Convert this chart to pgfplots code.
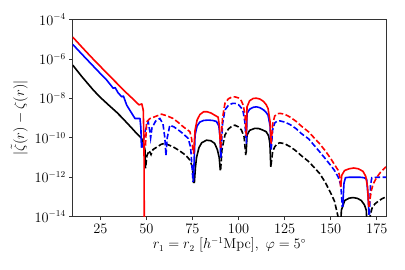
\documentclass[border=0pt]{standalone}
\usepackage{pgfplots}
\pgfplotsset{compat=1.18}
\begin{document}
\begin{tikzpicture}
\begin{axis}[
  scale only axis,
  width=313.3pt, height=197.2pt,
  xmin=10, xmax=180,
  ymode=log, ymin=1e-14, ymax=1e-4,
  xtick={25,50,75,100,125,150,175},
  ytick={1e-4,1e-6,1e-8,1e-10,1e-12,1e-14},
  minor ytick={}, 
  tick pos=left,
  tick align=outside,
  major tick length=3.5pt,
  every tick/.style={black!80, line width=0.8pt},
  axis line style={black!80, line width=0.8pt},
  ticklabel style={font=\fontsize{13.5}{16}\selectfont},
  label style={font=\fontsize{13.5}{16}\selectfont},
  xlabel={$r_1 = r_2\ [h^{-1}\mathrm{Mpc}],\ \varphi = 5^\circ$},
  ylabel={$|\tilde{\zeta}(r) - \zeta(r)|$},
  xlabel style={yshift=2pt},
  clip=true,
]
% ---------- black ----------
\addplot[black, line width=1.6pt, line join=round] coordinates {
(10,4.90e-7)(15,1.26e-7)(21.2,2.63e-8)(25,1.12e-8)(30,4.17e-9)(33.8,2.0e-9)(37,1e-9)(40,5.01e-10)(42,3.16e-10)(44.7,1.66e-10)(46,1.26e-10)(47.4,9.33e-11)(48.5,5.01e-11)(49.2,2.51e-11)(49.5,2.82e-12)};
\addplot[black, line width=1.6pt, dash pattern=on 5.5pt off 2.5pt] coordinates {
(49.7,3.98e-12)(50.3,1.26e-11)(51.5,2.24e-11)(52.5,1.41e-11)(53.5,2.51e-11)(56,3.55e-11)(58,4.68e-11)(60,5.25e-11)(62,4.37e-11)(64.5,3.47e-11)(67,2.51e-11)(70,1.62e-11)(72,1.12e-11)(73.6,7.41e-12)(75,3.16e-12)(75.6,5.01e-13)};
\addplot[black, line width=1.6pt] coordinates {
(76,5.01e-13)(76.6,3.16e-12)(77.2,1e-11)(78.5,3.16e-11)(80,5.62e-11)(82.6,7.59e-11)(85,7.08e-11)(87,5.25e-11)(88.5,2.51e-11)(89.5,1e-11)(90.1,2.24e-12)};
\addplot[black, line width=1.6pt, dash pattern=on 5.5pt off 2.5pt] coordinates {
(90.3,2.51e-12)(91,2.51e-11)(92.6,1.38e-10)(94.5,2.82e-10)(96.5,3.98e-10)(98,4.37e-10)(100,3.55e-10)(101.6,2.46e-10)(103,1.12e-10)(103.9,1.32e-11)};
\addplot[black, line width=1.6pt] coordinates {
(104.1,1.58e-11)(104.6,1.38e-10)(106,2.40e-10)(108.8,3.02e-10)(111,2.95e-10)(113,2.51e-10)(115,2.04e-10)(116.3,1.26e-10)(117,5.25e-11)(117.5,3.39e-12)};
\addplot[black, line width=1.6pt, dash pattern=on 5.5pt off 2.5pt] coordinates {
(117.6,3.98e-12)(118.5,2.0e-11)(119.6,3.47e-11)(121,5.01e-11)(122.4,5.62e-11)(125,5.01e-11)(128,3.55e-11)(131,2.24e-11)(134,1.26e-11)(138,6.31e-12)(141,3.16e-12)(144,1.55e-12)(147,5.62e-13)(150,1.58e-13)(152,6.31e-14)(154,1e-14)(154.8,1e-15)};
\addplot[black, line width=1.6pt] coordinates {
(155,1e-15)(155.8,2.14e-14)(157.6,6.61e-14)(160,8.71e-14)(162.1,9.33e-14)(164.5,8.51e-14)(166.6,6.61e-14)(168.3,3.98e-14)(169.3,2.14e-14)(170,1e-15)};
\addplot[black, line width=1.6pt, dash pattern=on 5.5pt off 2.5pt] coordinates {
(170.5,1e-15)(171.5,1.26e-14)(172.5,2.82e-14)(174,4.47e-14)(176,6.31e-14)(178,8.32e-14)(180,1e-13)};
% ---------- blue ----------
\addplot[blue, line width=1.6pt, line join=round] coordinates {
(10,5.50e-6)(15,1.74e-6)(20,5.62e-7)(25,1.82e-7)(28,9.55e-8)(30,5.62e-8)(32,3.24e-8)(33,3.55e-8)(34.5,2.0e-8)(36.6,1.20e-8)(37.5,1.32e-8)(39.3,4.57e-9)(41,2.51e-9)(43.8,9.55e-10)(46.5,9.55e-10)(47,3.16e-10)(47.3,3.16e-11)};
\addplot[blue, line width=1.6pt, dash pattern=on 5.5pt off 2.5pt] coordinates {
(47.5,3.16e-11)(49.5,2.51e-10)(51,6.46e-10)(51.9,2.0e-10)(52.3,1e-10)(53,3.16e-10)(55,7.08e-10)(57.3,9.55e-10)(59,5.01e-10)(60,1e-10)(60.6,1.26e-11)(61.3,1e-10)(62.7,4.37e-10)(65,3.55e-10)(68,2.24e-10)(70,1.58e-10)(72.7,9.33e-11)(74,3.16e-11)(75.3,5.89e-13)};
\addplot[blue, line width=1.6pt] coordinates {
(75.5,6.31e-13)(76.4,1.38e-10)(77.5,3.98e-10)(79,6.31e-10)(81,7.59e-10)(83.5,7.94e-10)(86,7.59e-10)(88,6.76e-10)(89.3,3.98e-10)(90,1e-10)(90.3,1e-11)};
\addplot[blue, line width=1.6pt, dash pattern=on 5.5pt off 2.5pt] coordinates {
(90.4,1e-11)(91.3,5.01e-10)(92.6,2.57e-9)(94.5,4.47e-9)(96.5,5.50e-9)(98,5.62e-9)(100,4.79e-9)(101.5,3.31e-9)(102.5,2.09e-9)(103.4,6.46e-10)(104,1e-10)};
\addplot[blue, line width=1.6pt] coordinates {
(104.2,5.01e-11)(104.6,1.74e-9)(106,2.82e-9)(108,3.55e-9)(109.7,3.72e-9)(111.5,3.39e-9)(113.5,2.63e-9)(115,1.91e-9)(116,1.41e-9)(117.1,3.98e-10)(117.6,3.16e-11)};
\addplot[blue, line width=1.6pt, dash pattern=on 5.5pt off 2.5pt] coordinates {
(117.7,2.51e-11)(118.5,2.51e-10)(119.6,5.62e-10)(121,7.08e-10)(122.4,7.24e-10)(125,6.31e-10)(128,4.68e-10)(131,3.02e-10)(134,1.66e-10)(138,8.91e-11)(141,4.17e-11)(144,1.95e-11)(147,8.91e-12)(150,3.98e-12)(152,2.24e-12)(154,1.05e-12)(155.5,3.98e-13)(156.3,3.16e-14)};
\addplot[blue, line width=1.6pt] coordinates {
(156.5,3.16e-14)(157.2,5.01e-13)(158,9.55e-13)(160,1e-12)(163,1e-12)(166,1e-12)(168,9.55e-13)(169.5,7.94e-13)(170.3,1e-13)(170.8,1.26e-14)};
\addplot[blue, line width=1.6pt, dash pattern=on 5.5pt off 2.5pt] coordinates {
(171,1.26e-14)(171.6,3.98e-13)(172.3,9.55e-13)(175,1e-12)(180,1e-12)};
% ---------- red ----------
\addplot[red, line width=1.6pt, line join=round] coordinates {
(10,1.29e-5)(15,3.98e-6)(20,1.26e-6)(25,4.17e-7)(30,1.38e-7)(35,4.68e-8)(38,2.40e-8)(41,1.32e-8)(44,7.08e-9)(46,4.68e-9)(47.5,5.25e-9)(48.3,2.51e-9)(48.7,3.16e-11)(48.9,1e-16)};
\addplot[red, line width=1.6pt, dash pattern=on 5.5pt off 2.5pt] coordinates {
(49.5,3.98e-11)(50.1,6.46e-10)(52,9.55e-10)(54.6,1.18e-9)(58.2,1.58e-9)(61,1.32e-9)(64.5,9.55e-10)(67,6.31e-10)(70,3.63e-10)(73.6,2.04e-10)(74.5,9.33e-11)(75.5,1.58e-11)};
\addplot[red, line width=1.6pt] coordinates {
(75.6,1.58e-11)(76.4,2.46e-10)(77.5,7.94e-10)(79,1.51e-9)(81,2.09e-9)(83,2.09e-9)(85,1.82e-9)(87,1.41e-9)(88.9,1.12e-9)(89.6,3.98e-10)(90.2,3.16e-11)};
\addplot[red, line width=1.6pt, dash pattern=on 5.5pt off 2.5pt] coordinates {
(90.3,3.16e-11)(91.3,1e-9)(92.6,5.62e-9)(94.5,9.55e-9)(96.5,1.18e-8)(98,1.20e-8)(100,1.05e-8)(101.5,7.59e-9)(102.5,4.57e-9)(103.5,1.58e-9)(104.1,1.58e-10)};
\addplot[red, line width=1.6pt] coordinates {
(104.2,1.26e-10)(104.6,3.72e-9)(106,7.59e-9)(108,1e-8)(109.7,1.02e-8)(111.5,9.33e-9)(113.5,7.08e-9)(115,4.79e-9)(116,3.09e-9)(117.1,6.46e-10)(117.6,6.31e-11)};
\addplot[red, line width=1.6pt, dash pattern=on 5.5pt off 2.5pt] coordinates {
(117.7,5.01e-11)(118.5,5.01e-10)(119.6,1.26e-9)(121,1.66e-9)(122.4,1.74e-9)(125,1.58e-9)(128,1.12e-9)(131,7.08e-10)(134,3.98e-10)(138,2.0e-10)(141,1e-10)(144,5.01e-11)(147,2.24e-11)(150,8.91e-12)(152,4.47e-12)(154,2.29e-12)(155,1e-12)(155.4,3.16e-13)};
\addplot[red, line width=1.6pt] coordinates {
(155.4,3.16e-13)(156,1.26e-12)(157.5,2.19e-12)(160,2.69e-12)(162.5,2.95e-12)(165,2.69e-12)(167.5,2.0e-12)(169,1.12e-12)(170,3.16e-13)(170.6,3.16e-14)};
\addplot[red, line width=1.6pt, dash pattern=on 5.5pt off 2.5pt] coordinates {
(170.7,3.16e-14)(172,2.0e-13)(173,4.47e-13)(175,1e-12)(177,1.78e-12)(180,3.39e-12)};
\end{axis}
\path (-72.7pt,-53.3pt) rectangle (332.3pt,216.7pt);
\end{tikzpicture}
\end{document}
